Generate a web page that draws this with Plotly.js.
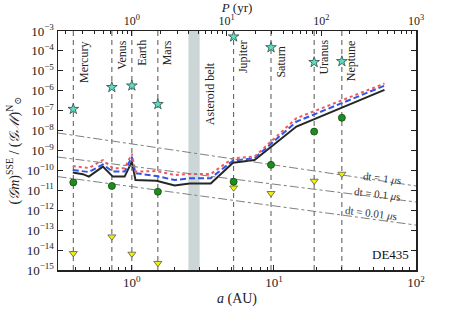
<!DOCTYPE html>
<html>
<head>
<meta charset="utf-8">
<script src="https://cdn.plot.ly/plotly-3.0.1.min.js"></script>
<style>html,body{margin:0;padding:0;background:#fff;}#chart{width:463px;height:309px;}</style>
</head>
<body>
<div id="chart"></div>
<script>
// ---- data ----
const planets = ['Mercury','Venus','Earth','Mars','Jupiter','Saturn','Uranus','Neptune'];
const planetA = [0.387, 0.723, 1.0, 1.524, 5.203, 9.537, 19.19, 30.07];
const starVals = [1.2e-7, 1.5e-6, 1.8e-6, 2.1e-7, 5.2e-4, 1.5e-4, 2.7e-5, 3.0e-5];
const circleVals = [2.5e-11, 1.66e-11, null, 8.5e-12, 2.7e-11, 1.9e-10, 8.9e-9, 4.4e-8];
const triVals = [6.9e-15, 4.7e-14, 6.4e-15, 2.2e-15, 1.35e-11, 7.1e-12, 2.95e-11, 6.6e-11];

const curveA = [0.384, 0.452, 0.498, 0.625, 0.734, 0.889, 1.0, 1.06, 1.49, 2.0, 2.55, 3.59, 5.15, 7.3, 14.4, 60];
const blackVals = [7.8e-11, 6.5e-11, 4.9e-11, 1.55e-10, 4.9e-11, 4.9e-11, 2.75e-10, 3.3e-11, 3.0e-11, 1.75e-11, 2.2e-11, 2.2e-11, 2.45e-10, 3.3e-10, 1.6e-8, 1.1e-6];
const blueVals = [1.05e-10, 9.3e-11, 8.3e-11, 2.0e-10, 8.7e-11, 8.7e-11, 4.9e-10, 7.2e-11, 5.2e-11, 3.3e-11, 4.0e-11, 4.1e-11, 3.1e-10, 4.1e-10, 2.8e-8, 1.8e-6];
const redVals = [1.66e-10, 1.48e-10, 1.32e-10, 3.3e-10, 1.29e-10, 1.29e-10, 6.8e-10, 8.7e-11, 9.3e-11, 5.9e-11, 6.6e-11, 6.6e-11, 4.1e-10, 4.9e-10, 4.2e-8, 2.3e-6];

const dtA = [0.3, 100];
const dt1Vals = [7.6e-9, 1.66e-11];
const dt01Vals = [4.7e-10, 2.6e-12];
const dt001Vals = [4.9e-11, 1.8e-13];
const dtLabels = ['dt = 1 <i>μ</i>s', 'dt = 0.1 <i>μ</i>s', 'dt = 0.01 <i>μ</i>s'];

const beltRange = [2.5, 3.0];

const yTickVals = [1e-15,1e-14,1e-13,1e-12,1e-11,1e-10,1e-9,1e-8,1e-7,1e-6,1e-5,1e-4,1e-3];
const yTickText = ['10<sup>−15</sup>','10<sup>−14</sup>','10<sup>−13</sup>','10<sup>−12</sup>','10<sup>−11</sup>','10<sup>−10</sup>','10<sup>−9</sup>','10<sup>−8</sup>','10<sup>−7</sup>','10<sup>−6</sup>','10<sup>−5</sup>','10<sup>−4</sup>','10<sup>−3</sup>'];
const xTickVals = [1, 10, 100];
const xTickText = ['10<sup>0</sup>','10<sup>1</sup>','10<sup>2</sup>'];
const pTickVals = [1, 10, 100, 1000];
const pTickText = ['10<sup>0</sup>','10<sup>1</sup>','10<sup>2</sup>','10<sup>3</sup>'];

// ---- minor tick positions (axis config) ----
function minorTicks(decades){ const out=[]; decades.forEach(d=>{for(let k=2;k<=9;k++) out.push(k*d);}); return out; }
const xMinor = minorTicks([0.1,1,10]).filter(v=>v>0.29);
const pMinor = minorTicks([0.1,1,10,100]).filter(v=>v>0.16);

const FONT = 'Liberation Serif, DejaVu Serif, serif';

const traces = [
  {x: curveA, y: blackVals, mode:'lines', line:{color:'#262626', width:2}, showlegend:false, hoverinfo:'skip'},
  {x: curveA, y: blueVals, mode:'lines', line:{color:'#2f55e8', width:2, dash:'6px,3px'}, showlegend:false, hoverinfo:'skip'},
  {x: curveA, y: redVals, mode:'lines', line:{color:'#f05a5a', width:2, dash:'dot'}, showlegend:false, hoverinfo:'skip'},
  {x: dtA, y: dt1Vals, mode:'lines', line:{color:'#808080', width:1, dash:'dashdot'}, showlegend:false},
  {x: dtA, y: dt01Vals, mode:'lines', line:{color:'#808080', width:1, dash:'dashdot'}, showlegend:false},
  {x: dtA, y: dt001Vals, mode:'lines', line:{color:'#808080', width:1, dash:'dashdot'}, showlegend:false},
  {x: planetA, y: starVals, mode:'markers', marker:{symbol:'star', size:8, color:'#5fdcc2', line:{color:'#2b4d47', width:0.8}}, showlegend:false},
  {x: planetA, y: circleVals, mode:'markers', marker:{symbol:'circle', size:7, color:'#1f8c1f', line:{color:'#0d4a0d', width:0.8}}, showlegend:false},
  {x: planetA, y: triVals, mode:'markers', marker:{symbol:'triangle-down', size:7, color:'#f2f200', line:{color:'#555', width:0.8}}, showlegend:false},
  {x: [], y: [], xaxis:'x2', yaxis:'y', showlegend:false}
];

const shapes = [
  {type:'rect', xref:'x', yref:'paper', x0: beltRange[0], x1: beltRange[1], y0:0, y1:1, fillcolor:'#cdd6d6', line:{width:0}, layer:'below'}
];
planetA.forEach(a => shapes.push({type:'line', xref:'x', yref:'paper', x0:a, x1:a, y0:0, y1:1, line:{color:'#555', width:1, dash:'5px,4px'}, layer:'below'}));

const labelTop = [0.962, 0.971, 0.971, 0.971, 0.971, 0.941, 0.971, 0.971];
const annotations = planets.map((p,i)=>({
  text: p, x: Math.log10(planetA[i]), xref:'x', y: labelTop[i], yref:'paper',
  textangle:-90, xanchor:'left', yanchor:'top', xshift:1, showarrow:false,
  font:{family:FONT, size:12, color:'#222'}
}));
annotations.push({text:'Asteroid belt', x: Math.log10(beltRange[1]), xref:'x', y:-7.82, yref:'y', textangle:-90, xanchor:'left', yanchor:'bottom', xshift:1, showarrow:false, font:{family:FONT, size:12, color:'#222'}});
const dtPos = [[1.760,-10.38],[1.731,-11.18],[1.682,-12.14]];
dtLabels.forEach((t,i)=>annotations.push({text:t, x:dtPos[i][0], y:dtPos[i][1], xref:'x', yref:'y', textangle:7, showarrow:false, font:{family:FONT, size:11, color:'#333'}}));
annotations.push({text:'DE435', xref:'paper', yref:'paper', x:1, y:0, xanchor:'right', yanchor:'bottom', xshift:-5, yshift:6, showarrow:false, font:{family:FONT, size:13, color:'#111'}});

const layout = {
  width:463, height:309,
  margin:{l:58, r:47, t:31, b:39},
  paper_bgcolor:'#fff', plot_bgcolor:'#fff',
  font:{family:FONT, size:13, color:'#222'},
  showlegend:false,
  xaxis:{type:'log', range:[-0.52, 2], showgrid:false, zeroline:false, showline:true, linecolor:'#222', linewidth:1.5, mirror:false,
    ticks:'inside', ticklen:5, tickcolor:'#222', tickmode:'array', tickvals:xTickVals, ticktext:xTickText,
    minor:{tickmode:'array', tickvals:xMinor, ticks:'inside', ticklen:3, tickcolor:'#222', showgrid:false},
    title:{text:'<i>a</i> (AU)', standoff:4, font:{family:FONT, size:14}}},
  xaxis2:{type:'log', overlaying:'x', side:'top', anchor:'y', range:[-0.78, 3], showgrid:false, zeroline:false, showline:true, linecolor:'#222', linewidth:1.5,
    ticks:'inside', ticklen:5, tickcolor:'#222', tickmode:'array', tickvals:pTickVals, ticktext:pTickText, tickfont:{family:FONT, size:12},
    minor:{tickmode:'array', tickvals:pMinor, ticks:'inside', ticklen:3, tickcolor:'#222', showgrid:false},
    title:{text:'<i>P</i> (yr)', standoff:0, font:{family:FONT, size:13}}},
  yaxis:{type:'log', range:[-15, -3], showgrid:false, zeroline:false, showline:true, linecolor:'#222', linewidth:1.5, mirror:'ticks',
    ticks:'inside', ticklen:5, tickcolor:'#222', tickmode:'array', tickvals:yTickVals, ticktext:yTickText,
    title:{text:'(<i>𝒢m</i>)<sup>SSE</sup> / (<i>𝒢ℳ</i>)<sup>N</sup><sub>⊙</sub>', standoff:4, font:{family:FONT, size:14}}},
  shapes:shapes,
  annotations:annotations
};

Plotly.newPlot('chart', traces, layout, {staticPlot:true, displayModeBar:false});
</script>
</body>
</html>
